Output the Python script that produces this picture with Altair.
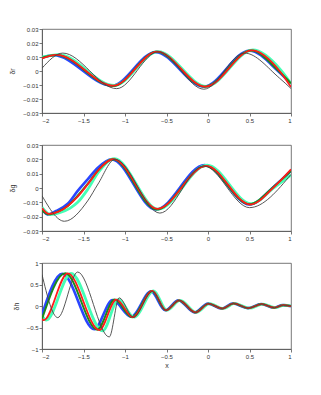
import altair as alt
import pandas as pd

SERIES = ["blue", "cyan", "green", "red", "black"]
COLORS = {"blue": "#2a45ff", "cyan": "#45ffb5", "green": "#1a8a1a", "red": "#ff1a1a", "black": "#444444"}
WIDTHS = {"blue": 2.6, "cyan": 2.8, "green": 2.0, "red": 1.8, "black": 0.9}

x_ticks = [-2, -1.5, -1, -0.5, 0, 0.5, 1]
y_ticks_small = [-0.03, -0.02, -0.01, 0, 0.01, 0.02, 0.03]
y_ticks_big = [-1, -0.5, 0, 0.5, 1]

# panel 1 (δr): key points (x, y)
r_blue = [(-2, 0.0095), (-1.86, 0.0112), (-1.16, -0.0105), (-0.63, 0.0135), (-0.05, -0.0112), (0.5, 0.0145), (0.85, -0.0003), (1.0, -0.009)]
r_cyan = [(-2, 0.0098), (-1.8, 0.0117), (-1.13, -0.0103), (-0.6, 0.0138), (-0.02, -0.011), (0.54, 0.015), (0.88, 0.0005), (1.0, -0.009)]
r_green = [(-2, 0.0095), (-1.83, 0.0115), (-1.145, -0.0107), (-0.62, 0.0137), (-0.04, -0.0112), (0.52, 0.0146), (0.86, -0.0005), (1.0, -0.0088)]
r_red = [(-2, 0.009), (-1.82, 0.0115), (-1.14, -0.0105), (-0.61, 0.0138), (-0.03, -0.0112), (0.53, 0.0147), (0.87, -0.0005), (1.0, -0.0115)]
r_black = [(-2, 0.002), (-1.75, 0.0128), (-1.1, -0.0126), (-0.6, 0.0137), (-0.05, -0.013), (0.44, 0.0128), (0.86, -0.005), (1.0, -0.0125)]

# panel 2 (δg)
g_blue = [(-2, -0.015), (-1.93, -0.0185), (-1.83, -0.016), (-1.69, -0.011), (-1.57, -0.002), (-1.45, 0.006), (-1.33, 0.014), (-1.16, 0.020), (-0.63, -0.015), (-0.04, 0.016), (0.5, -0.0115), (0.8, 0.0012), (1.0, 0.012)]
g_cyan = [(-2, -0.0135), (-1.9, -0.0185), (-1.78, -0.017), (-1.66, -0.014), (-1.57, -0.010), (-1.45, -0.001), (-1.32, 0.011), (-1.13, 0.0205), (-0.6, -0.0148), (-0.01, 0.016), (0.52, -0.011), (0.8, 0.0005), (1.0, 0.009)]
g_green = [(-2, -0.0156), (-1.92, -0.0184), (-1.81, -0.0165), (-1.69, -0.0125), (-1.57, -0.0054), (-1.45, 0.0028), (-1.325, 0.0123), (-1.145, 0.020), (-0.62, -0.015), (-0.03, 0.0153), (0.5, -0.0114), (0.8, 0.0014), (1.0, 0.0119)]
g_red = [(-2, -0.014), (-1.92, -0.018), (-1.8, -0.0165), (-1.69, -0.0125), (-1.57, -0.006), (-1.45, 0.0025), (-1.32, 0.0125), (-1.14, 0.0202), (-0.61, -0.0145), (-0.02, 0.0155), (0.51, -0.0115), (0.8, 0.001), (1.0, 0.013)]
g_black = [(-2, -0.0054), (-1.73, -0.0232), (-1.45, -0.009), (-1.325, 0.0028), (-1.12, 0.020), (-0.58, -0.0175), (-0.05, 0.0153), (0.5, -0.0137), (1.0, 0.0095)]

# panel 3 (δh)
h_blue = [(-2, -0.2), (-1.756, 0.75), (-1.37, -0.54), (-1.15, 0.14), (-0.925, -0.25), (-0.685, 0.34), (-0.515, -0.1), (-0.355, 0.13), (-0.16, -0.15), (0.0, 0.055), (0.165, -0.06), (0.3, 0.06), (0.48, -0.05), (0.64, 0.045), (0.79, -0.04), (0.9, 0.02), (1.0, -0.005)]
h_cyan = [(-2, -0.22), (-1.95, -0.33), (-1.65, 0.76), (-1.27, -0.58), (-1.08, 0.15), (-0.89, -0.26), (-0.655, 0.35), (-0.495, -0.1), (-0.335, 0.13), (-0.14, -0.15), (0.02, 0.055), (0.185, -0.06), (0.32, 0.06), (0.5, -0.05), (0.66, 0.045), (0.81, -0.04), (0.92, 0.02), (1.0, 0.0)]
h_green = [(-2, -0.3), (-1.72, 0.76), (-1.335, -0.55), (-1.125, 0.15), (-0.915, -0.26), (-0.675, 0.35), (-0.51, -0.1), (-0.35, 0.13), (-0.155, -0.15), (0.005, 0.055), (0.17, -0.06), (0.305, 0.06), (0.485, -0.05), (0.645, 0.045), (0.795, -0.04), (0.905, 0.02), (1.0, -0.003)]
h_red = [(-2, -0.3), (-1.98, -0.33), (-1.69, 0.76), (-1.31, -0.56), (-1.105, 0.15), (-0.905, -0.26), (-0.67, 0.35), (-0.505, -0.1), (-0.345, 0.13), (-0.15, -0.15), (0.01, 0.055), (0.175, -0.06), (0.31, 0.06), (0.49, -0.05), (0.65, 0.045), (0.8, -0.04), (0.91, 0.02), (1.0, -0.002)]
h_black = [(-2, 0.73), (-1.81, -0.27), (-1.57, 0.79), (-1.19, -0.72), (-1.07, 0.19), (-0.9, -0.26), (-0.67, 0.34), (-0.505, -0.1), (-0.345, 0.13), (-0.15, -0.15), (0.01, 0.055), (0.175, -0.06), (0.31, 0.06), (0.49, -0.05), (0.65, 0.045), (0.8, -0.04), (0.91, 0.02), (1.0, -0.002)]

PANELS = [
    ("δr", {"blue": r_blue, "cyan": r_cyan, "green": r_green, "red": r_red, "black": r_black}, y_ticks_small, 84, False),
    ("δg", {"blue": g_blue, "cyan": g_cyan, "green": g_green, "red": g_red, "black": g_black}, y_ticks_small, 86, False),
    ("δh", {"blue": h_blue, "cyan": h_cyan, "green": h_green, "red": h_red, "black": h_black}, y_ticks_big, 86, True),
]

FONT = "Liberation Sans"
LABEL_COLOR = "#333333"


def make_panel(title, series, yticks, height, show_xtitle):
    layers = []
    for name in SERIES:
        pts = series[name]
        df = pd.DataFrame({"x": [p[0] for p in pts], "y": [p[1] for p in pts]})
        layers.append(
            alt.Chart(df)
            .mark_line(color=COLORS[name], strokeWidth=WIDTHS[name], interpolate="monotone", clip=True)
            .encode(
                x=alt.X("x:Q", scale=alt.Scale(domain=[-2, 1], nice=False),
                        axis=alt.Axis(values=x_ticks, format="~g", title="x" if show_xtitle else None)),
                y=alt.Y("y:Q", scale=alt.Scale(domain=[yticks[0], yticks[-1]], nice=False),
                        axis=alt.Axis(values=yticks, format="~g", title=title)),
            )
        )
    return alt.layer(*layers).properties(width=249, height=height)


chart = alt.vconcat(*[make_panel(*p) for p in PANELS], spacing=17).properties(
    padding={"top": 17, "left": 0, "right": 5, "bottom": 5}
).configure_view(stroke="#555555", strokeWidth=0.8).configure_axis(
    grid=False, labelFont=FONT, titleFont=FONT, labelFontSize=6, titleFontSize=7,
    labelColor=LABEL_COLOR, titleColor=LABEL_COLOR, domainColor="#555555", tickColor="#555555",
    tickSize=3, labelPadding=1, titleFontWeight="normal", domainWidth=0.8, tickWidth=0.8,
).configure_axisY(titlePadding=7).configure_axisX(titlePadding=2)

chart.save("out.html", embed_options={"renderer": "svg", "actions": False})
